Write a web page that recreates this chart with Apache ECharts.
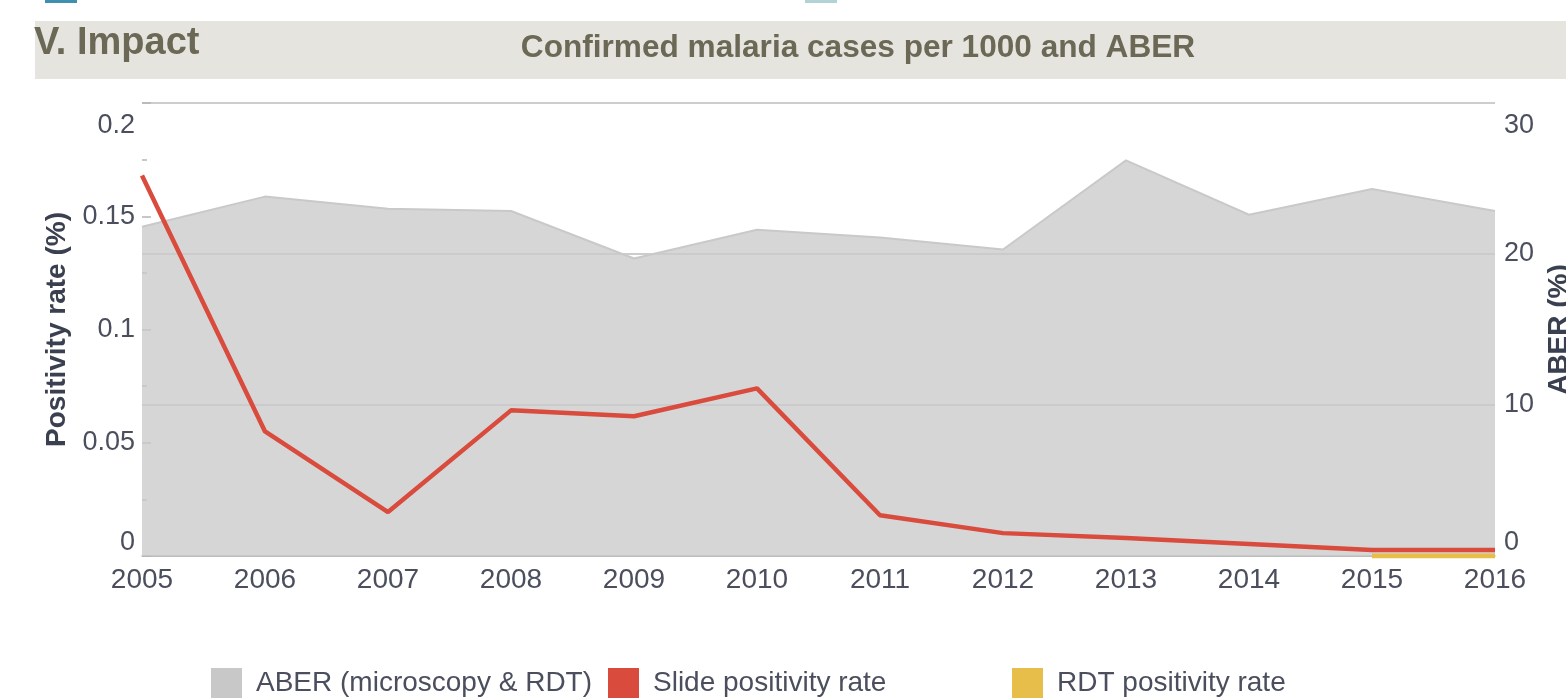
<!DOCTYPE html>
<html>
<head>
<meta charset="utf-8">
<script src="https://cdn.jsdelivr.net/npm/echarts@6/dist/echarts.min.js"></script>
<style>
  html, body { margin: 0; padding: 0; background: #fff; }
  #chart { width: 1566px; height: 698px; }
</style>
</head>
<body>
<div id="chart"></div>
<script>
const years = ['2005', '2006', '2007', '2008', '2009', '2010', '2011', '2012', '2013', '2014', '2015', '2016']
// ABER (%) on the right axis
const aber = [21.8, 23.8, 23.0, 22.85, 19.7, 21.6, 21.1, 20.3, 26.2, 22.6, 24.3, 22.85]
// positivity rates (%) on the left axis
const slidePositivity = [0.168, 0.055, 0.0194, 0.0643, 0.0617, 0.074, 0.018, 0.0101, 0.0079, 0.0053, 0.0026, 0.0026]
const rdtPositivity = [null, null, null, null, null, null, null, null, null, null, 0, 0]

const FONT = '"Liberation Sans", Arial, Helvetica, sans-serif'
const labelColor = '#4b4f5d'
const nameColor = '#3b4050'
const bandText = '#6b6856'

const chart = echarts.init(document.getElementById('chart'))

function legendAt(left, name) {
  return {
    left: left,
    top: 663,
    itemWidth: 31,
    itemHeight: 31,
    icon: 'rect',
    selectedMode: false,
    data: [name],
    textStyle: { fontFamily: FONT, fontSize: 28, color: labelColor, padding: [0, 0, 0, 9] },
  }
}

// push the top label down into the plot, like the original
function topLabel(max) {
  return (v) => (Math.abs(v - max) < 1e-9 ? '{mx|' + v + '}' : String(v))
}

chart.setOption({
  animation: false,
  textStyle: { fontFamily: FONT },
  graphic: [
    { type: 'rect', shape: { x: 45, y: 0, width: 32, height: 3 }, style: { fill: '#3f8fae' } },
    { type: 'rect', shape: { x: 805, y: 0, width: 32, height: 3 }, style: { fill: '#b1d3d5' } },
    { type: 'rect', shape: { x: 35, y: 21, width: 1531, height: 58 }, style: { fill: '#e5e4df' }, z: -1 },
    {
      type: 'text', x: 34, y: 44,
      style: { text: 'V. Impact', font: 'bold 38px ' + FONT, fill: bandText, verticalAlign: 'middle' },
    },
    {
      type: 'text', x: 858, y: 48,
      style: { text: 'Confirmed malaria cases per 1000 and ABER', font: 'bold 31.6px ' + FONT, fill: bandText, align: 'center', verticalAlign: 'middle' },
    },
  ],
  legend: [
    legendAt(206, 'ABER (microscopy & RDT)'),
    legendAt(603, 'Slide positivity rate'),
    legendAt(1007, 'RDT positivity rate'),
  ],
  grid: { left: 142, right: 71, top: 103, bottom: 142, outerBoundsMode: 'none', containLabel: false },
  xAxis: {
    type: 'category',
    data: years,
    boundaryGap: false,
    axisLine: { lineStyle: { color: '#b8b8b8', width: 1.5 } },
    axisTick: { show: false },
    axisLabel: { color: labelColor, fontSize: 28, margin: 10 },
  },
  yAxis: [
    {
      type: 'value',
      min: 0,
      max: 0.2,
      interval: 0.05,
      name: 'Positivity rate (%)',
      nameLocation: 'middle',
      nameGap: 70,
      nameRotate: 90,
      nameTextStyle: { color: nameColor, fontSize: 28, fontWeight: 'bold' },
      axisLine: { show: false },
      axisTick: { show: true, inside: true, length: 9, lineStyle: { color: '#b5b5b5', width: 1.5 } },
      minorTick: { show: true, splitNumber: 2, length: 5, lineStyle: { color: '#b5b5b5', width: 1.5 } },
      splitLine: { show: false },
      axisLabel: {
        color: labelColor, fontSize: 27, margin: 7,
        verticalAlignMinLabel: 'bottom', verticalAlignMaxLabel: 'top',
        formatter: topLabel(0.2),
        rich: { mx: { fontSize: 27, color: labelColor, padding: [9, 0, 0, 0] } },
      },
    },
    {
      type: 'value',
      min: 0,
      max: 30,
      interval: 10,
      position: 'right',
      name: 'ABER (%)',
      nameLocation: 'middle',
      nameGap: 50,
      nameRotate: 90,
      nameTextStyle: { color: nameColor, fontSize: 28, fontWeight: 'bold' },
      axisLine: { show: false },
      axisTick: { show: false },
      splitLine: { lineStyle: { color: '#bdbdbd', width: 1.5 } },
      axisLabel: {
        color: labelColor, fontSize: 27, margin: 9,
        verticalAlignMinLabel: 'bottom', verticalAlignMaxLabel: 'top',
        formatter: topLabel(30),
        rich: { mx: { fontSize: 27, color: labelColor, padding: [9, 0, 0, 0] } },
      },
    },
  ],
  series: [
    {
      name: 'ABER (microscopy & RDT)',
      type: 'line',
      yAxisIndex: 1,
      data: aber,
      symbol: 'none',
      itemStyle: { color: '#c8c8c8' },
      lineStyle: { color: '#c9c9c9', width: 2 },
      areaStyle: { color: '#cbcbcb', opacity: 0.785 },
      z: 1,
    },
    {
      name: 'RDT positivity rate',
      type: 'line',
      data: rdtPositivity,
      symbol: 'none',
      itemStyle: { color: '#e8be4b' },
      lineStyle: { color: '#e8be4b', width: 5 },
      z: 3,
    },
    {
      name: 'Slide positivity rate',
      type: 'line',
      data: slidePositivity,
      symbol: 'none',
      itemStyle: { color: '#d94b3d' },
      lineStyle: { color: '#d94b3d', width: 4.5 },
      z: 4,
    },
  ],
})
</script>
</body>
</html>
